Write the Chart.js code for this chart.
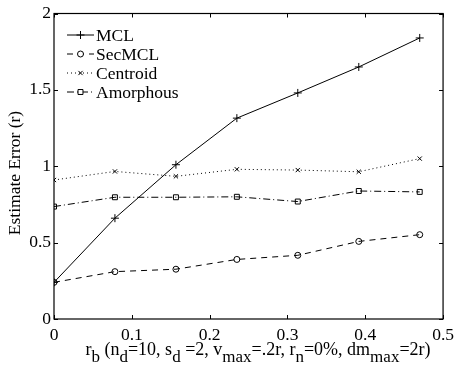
<!DOCTYPE html>
<html>
<head>
<meta charset="utf-8">
<script src="https://cdn.jsdelivr.net/npm/chart.js@4/dist/chart.umd.min.js"></script>
<style>
  html, body { margin: 0; padding: 0; background: #fff; }
  canvas { display: block; }
</style>
</head>
<body>
<canvas id="c" width="460" height="365"></canvas>
<script>
// data
const rb = [0, 0.0783, 0.1567, 0.235, 0.3133, 0.3917, 0.47];
const mcl = [0.24, 0.66, 1.01, 1.315, 1.48, 1.65, 1.84];
const secMcl = [0.24, 0.31, 0.326, 0.39, 0.417, 0.508, 0.552];
const centroid = [0.91, 0.966, 0.934, 0.98, 0.975, 0.964, 1.05];
const amorphous = [0.736, 0.797, 0.797, 0.80, 0.769, 0.838, 0.832];
const xTicks = [0, 0.1, 0.2, 0.3, 0.4, 0.5];
const yTicks = [0, 0.5, 1, 1.5, 2];

const FONT = "'Liberation Serif'";

const pts = (ys) => ys.map((y, i) => ({ x: rb[i], y }));

const series = [
  { label: "MCL", data: mcl, dash: [], style: "cross", r: 4 },
  { label: "SecMCL", data: secMcl, dash: [6, 5], style: "circle", r: 3 },
  { label: "Centroid", data: centroid, dash: [1, 3], style: "crossRot", r: 3 },
  { label: "Amorphous", data: amorphous, dash: [7, 3, 1, 3], style: "rect", r: 3.5 },
];

// frame + inward ticks on all four sides, matlab style
const framePlugin = {
  id: "frame",
  afterDatasetsDraw(chart) {
    const { ctx, chartArea: a, scales } = chart;
    ctx.save();
    ctx.strokeStyle = "#000";
    ctx.lineWidth = 1.2;
    ctx.setLineDash([]);
    ctx.strokeRect(a.left, a.top, a.right - a.left, a.bottom - a.top);
    ctx.lineWidth = 1;
    ctx.beginPath();
    for (const v of xTicks) {
      const x = Math.round(scales.x.getPixelForValue(v)) + 0.5;
      ctx.moveTo(x, a.bottom); ctx.lineTo(x, a.bottom - 4);
      ctx.moveTo(x, a.top); ctx.lineTo(x, a.top + 4);
    }
    for (const v of yTicks) {
      const y = Math.round(scales.y.getPixelForValue(v)) + 0.5;
      ctx.moveTo(a.left, y); ctx.lineTo(a.left + 4, y);
      ctx.moveTo(a.right, y); ctx.lineTo(a.right - 4, y);
    }
    ctx.stroke();

    // legend (no box)
    ctx.textBaseline = "middle";
    series.forEach((s, i) => {
      const y = 35 + i * 19;
      ctx.lineWidth = 1;
      ctx.setLineDash(s.dash);
      ctx.beginPath();
      ctx.moveTo(67, y); ctx.lineTo(94, y);
      ctx.stroke();
      ctx.setLineDash([]);
      ctx.fillStyle = "#fff";
      Chart.helpers.drawPoint(ctx, { pointStyle: s.style, radius: s.r, rotation: 0, borderWidth: 1 }, 80.5, y);
      ctx.fillStyle = "#000";
      ctx.font = `17.5px ${FONT}`;
      ctx.fillText(s.label, 96, y + 1);
    });

    // axis titles
    ctx.fillStyle = "#000";
    ctx.save();
    ctx.translate(15, 173);
    ctx.rotate(-Math.PI / 2);
    ctx.textAlign = "center";
    ctx.font = `17.5px ${FONT}`;
    ctx.fillText("Estimate Error (r)", 0, 0);
    ctx.restore();

    const parts = [
      ["r", 0], ["b", 1], [" (n", 0], ["d", 1], ["=10, s", 0], ["d", 1], [" =2, v", 0],
      ["max", 1], ["=.2r, r", 0], ["n", 1], ["=0%, dm", 0], ["max", 1], ["=2r)", 0],
    ];
    ctx.textBaseline = "alphabetic";
    ctx.textAlign = "left";
    const fmain = `18px ${FONT}`, fsub = `17px ${FONT}`;
    let total = 0;
    for (const [t, sub] of parts) { ctx.font = sub ? fsub : fmain; total += ctx.measureText(t).width; }
    let x = 258 - total / 2;
    for (const [t, sub] of parts) {
      ctx.font = sub ? fsub : fmain;
      ctx.fillText(t, x, sub ? 362 : 355);
      x += ctx.measureText(t).width;
    }
    ctx.restore();
  }
};

new Chart(document.getElementById("c"), {
  type: "line",
  data: {
    datasets: series.map(s => ({
      label: s.label,
      data: pts(s.data),
      borderColor: "#000",
      borderWidth: 1,
      borderDash: s.dash,
      pointStyle: s.style,
      pointRadius: s.r,
      pointBorderColor: "#000",
      pointBorderWidth: 1,
      pointBackgroundColor: "rgba(0,0,0,0)",
      tension: 0,
      fill: false,
    })),
  },
  options: {
    responsive: false,
    devicePixelRatio: 1,
    animation: false,
    layout: { padding: { left: 0, top: 12, right: 11, bottom: 0 } },
    plugins: { legend: { display: false }, tooltip: { enabled: false } },
    scales: {
      x: {
        type: "linear", min: 0, max: 0.5,
        afterBuildTicks: (s) => { s.ticks = xTicks.map(v => ({ value: v })); },
        afterFit: (s) => { s.height = 46; },
        grid: { display: false, drawTicks: false },
        border: { display: false },
        ticks: {
          color: "#000", padding: 6, maxRotation: 0,
          font: { family: FONT, size: 17.5 },
          callback: (v) => String(Math.round(v * 10) / 10),
        },
      },
      y: {
        min: 0, max: 2,
        afterBuildTicks: (s) => { s.ticks = yTicks.map(v => ({ value: v })); },
        afterFit: (s) => { s.width = 54; },
        grid: { display: false, drawTicks: false },
        border: { display: false },
        ticks: {
          color: "#000", padding: 3,
          font: { family: FONT, size: 17.5 },
          callback: (v) => String(Math.round(v * 10) / 10),
        },
      },
    },
  },
  plugins: [framePlugin],
});
</script>
</body>
</html>
